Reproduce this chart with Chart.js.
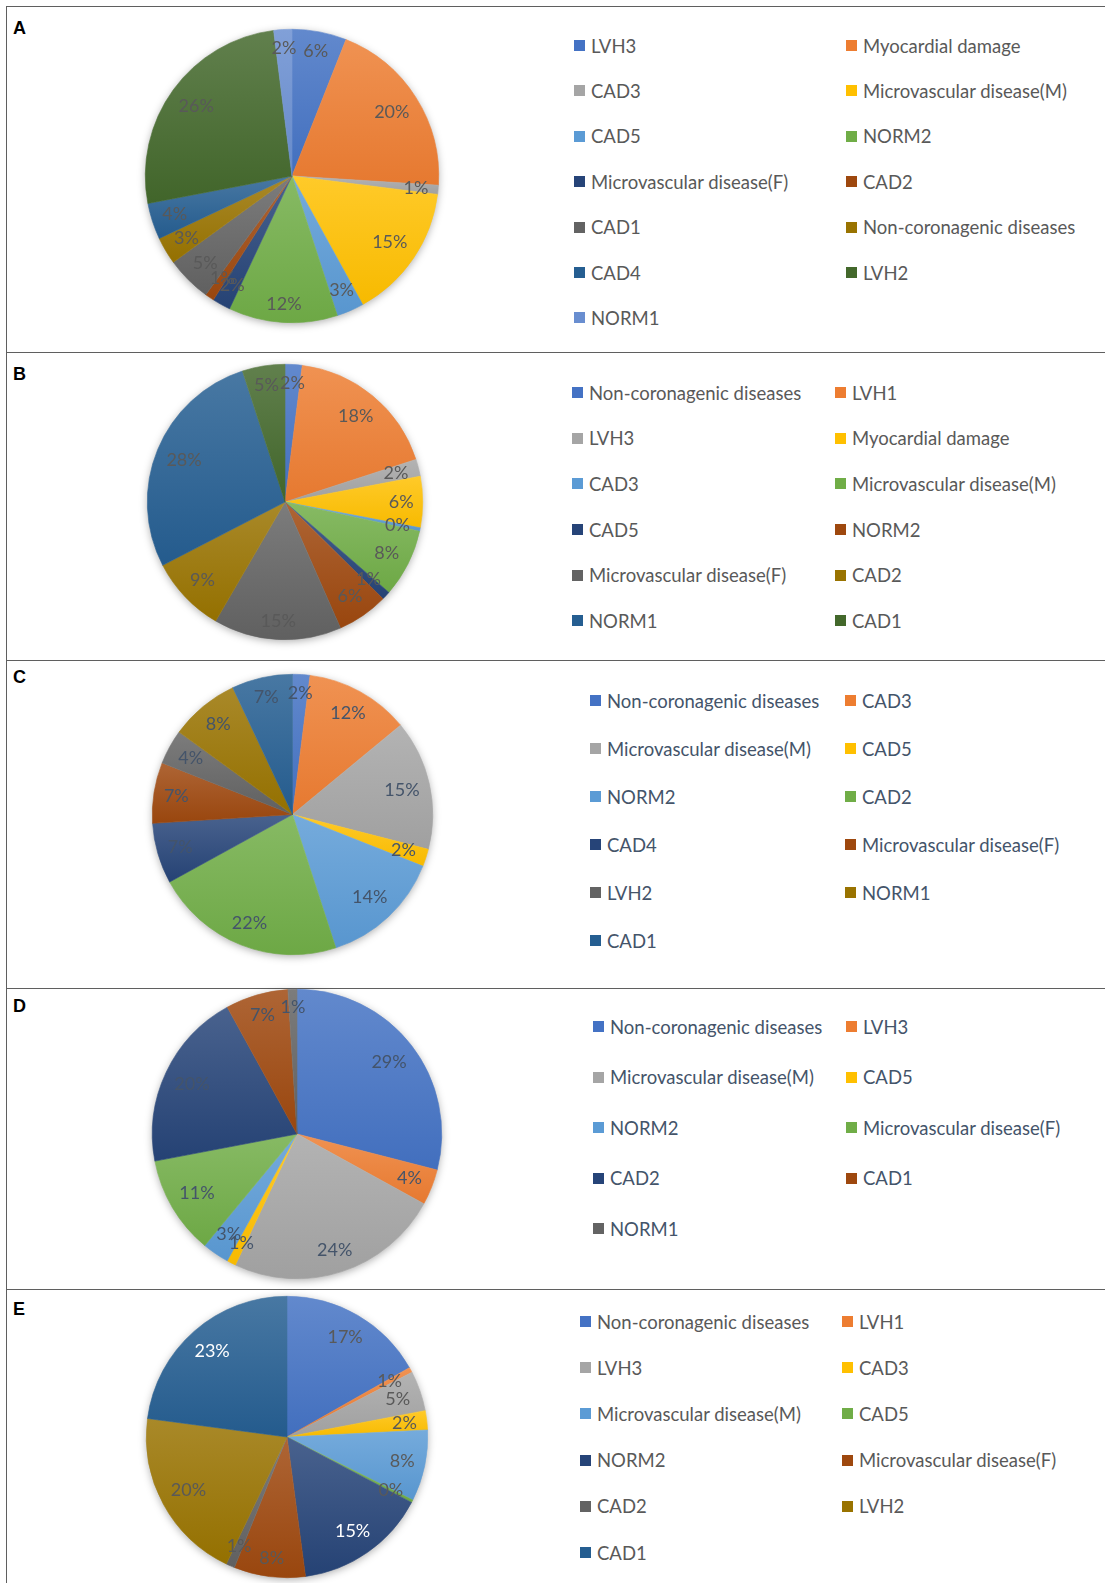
<!DOCTYPE html>
<html><head><meta charset="utf-8">
<script src="https://cdn.jsdelivr.net/npm/chart.js@4.4.0/dist/chart.umd.min.js"></script>
<style>
html,body{margin:0;padding:0;background:#fff;}
#page{position:relative;width:1105px;height:1583px;overflow:hidden;font-family:Lato,'Open Sans',sans-serif;}
.hline{position:absolute;left:6px;right:0;height:0;border-top:1.5px solid #5f5f5f;}
.vline{position:absolute;left:6px;top:6px;bottom:0;width:0;border-left:1.5px solid #5f5f5f;}
.letter{position:absolute;left:13px;height:20px;line-height:20px;font:bold 18px 'Liberation Sans',Arial,sans-serif;color:#000;}
.pie{position:absolute;}
.item{position:absolute;height:24px;display:flex;align-items:center;white-space:nowrap;font-size:18.5px;}
.sw{width:11px;height:11px;margin-right:6px;flex:none;}
</style>
</head><body>
<div id="page"></div>
<script>
// ---------- data ----------
const labelsA = ['LVH3','Myocardial damage','CAD3','Microvascular disease(M)','CAD5','NORM2','Microvascular disease(F)','CAD2','CAD1','Non-coronagenic diseases','CAD4','LVH2','NORM1'];
const valuesA = [6,20,1,15,3,12,2,1,5,3,4,26,2];

const labelsB = ['Non-coronagenic diseases','LVH1','LVH3','Myocardial damage','CAD3','Microvascular disease(M)','CAD5','NORM2','Microvascular disease(F)','CAD2','NORM1','CAD1'];
const valuesB = [2,18,2,6,0.4,8,1,6,15,9,27.6,5];

const labelsC = ['Non-coronagenic diseases','CAD3','Microvascular disease(M)','CAD5','NORM2','CAD2','CAD4','Microvascular disease(F)','LVH2','NORM1','CAD1'];
const valuesC = [2,12,15,2,14,22,7,7,4,8,7];

const labelsD = ['Non-coronagenic diseases','LVH3','Microvascular disease(M)','CAD5','NORM2','Microvascular disease(F)','CAD2','CAD1','NORM1'];
const valuesD = [29,4,24,1,3,11,20,7,1];

const labelsE = ['Non-coronagenic diseases','LVH1','LVH3','CAD3','Microvascular disease(M)','CAD5','NORM2','Microvascular disease(F)','CAD2','LVH2','CAD1'];
const valuesE = [16.8,0.6,4.6,2.2,8.2,0.3,15.2,8.2,1.0,20.0,22.9];

const panelLetters = ['A','B','C','D','E'];

// ---------- styles ----------
const PALETTE = ['#4472C4','#ED7D31','#A5A5A5','#FFC000','#5B9BD5','#70AD47','#264478','#9E480E','#636363','#997300','#255E91','#43682B','#698ED0'];

const layouts = [
  {letterY:28,  cx:292,   cy:176,  r:147,   sq1:574, sq2:846, y0:45.5,  dy:45.4, text:'#595959', labelColors:{}},
  {letterY:374, cx:284.5, cy:502,  r:138,   sq1:572, sq2:835, y0:392.7, dy:45.6, text:'#595959', labelColors:{}},
  {letterY:677, cx:292,   cy:814,  r:140.5, sq1:590, sq2:845, y0:700.6, dy:48.0, text:'#44546A', labelColors:{}},
  {letterY:1006,cx:297,   cy:1134, r:145,   sq1:593, sq2:846, y0:1026.7,dy:50.5, text:'#44546A', labelColors:{}},
  {letterY:1309,cx:287,   cy:1437, r:141,   sq1:580, sq2:842, y0:1321.5,dy:46.2, text:'#595959', labelColors:{6:'#ffffff',10:'#ffffff'}}
];
const lineYs = [6, 352, 660, 988, 1289];

const panels = [
  {labels:labelsA, values:valuesA},
  {labels:labelsB, values:valuesB},
  {labels:labelsC, values:valuesC},
  {labels:labelsD, values:valuesD},
  {labels:labelsE, values:valuesE}
];

// ---------- helpers ----------
function mix(hex, hex2, t){
  const a = parseInt(hex.slice(1),16), b = parseInt(hex2.slice(1),16);
  const r = Math.round(((a>>16)&255)*(1-t) + ((b>>16)&255)*t);
  const g = Math.round(((a>>8)&255)*(1-t) + ((b>>8)&255)*t);
  const bl = Math.round((a&255)*(1-t) + (b&255)*t);
  return 'rgb('+r+','+g+','+bl+')';
}
function sliceFill(c){
  const i = c.dataIndex;
  const base = PALETTE[i % PALETTE.length];
  const chart = c.chart, area = chart.chartArea;
  if (c.type !== 'data' || !area) return base;
  const data = chart.data.datasets[0].data;
  const total = data.reduce((s,v)=>s+v,0);
  let before = 0; for (let k=0;k<i;k++) before += data[k];
  const a0 = -Math.PI/2 + before/total*2*Math.PI;
  const a1 = a0 + data[i]/total*2*Math.PI;
  const cy = (area.top+area.bottom)/2, r = Math.min(area.width, area.height)/2;
  let ymin = cy, ymax = cy;
  for (let t=0;t<=24;t++){ const a = a0+(a1-a0)*t/24; const y = cy + r*Math.sin(a); ymin=Math.min(ymin,y); ymax=Math.max(ymax,y); }
  if (ymax-ymin < 1) ymax = ymin+1;
  const g = chart.ctx.createLinearGradient(0,ymin,0,ymax);
  g.addColorStop(0, mix(base,'#ffffff',0.16));
  g.addColorStop(1, mix(base,'#000000',0.03));
  return g;
}

const pieShadow = {
  id:'pieShadow',
  beforeDatasetsDraw(chart){
    const arc = chart.getDatasetMeta(0).data[0];
    if (!arc) return;
    const p = arc.getProps(['x','y','outerRadius'], true);
    const ctx = chart.ctx;
    ctx.save();
    ctx.shadowColor = 'rgba(0,0,0,0.35)';
    ctx.shadowBlur = 8;
    ctx.shadowOffsetY = 2;
    ctx.fillStyle = '#ffffff';
    ctx.beginPath(); ctx.arc(p.x, p.y, p.outerRadius-0.5, 0, Math.PI*2); ctx.fill();
    ctx.restore();
  }
};

const sliceLabels = {
  id:'sliceLabels',
  afterDatasetsDraw(chart, args, opts){
    const ctx = chart.ctx;
    const data = chart.data.datasets[0].data;
    const total = data.reduce((s,v)=>s+v,0);
    ctx.save();
    ctx.font = opts.size + 'px Lato, "Open Sans", sans-serif';
    ctx.textAlign = 'center'; ctx.textBaseline = 'middle';
    chart.getDatasetMeta(0).data.forEach((arc,i)=>{
      const p = arc.getProps(['x','y','startAngle','endAngle','outerRadius'], true);
      const mid = (p.startAngle+p.endAngle)/2;
      const txt = Math.round(data[i]/total*100) + '%';
      const w = ctx.measureText(txt).width, h = opts.size*0.95;
      const ext = Math.abs(Math.cos(mid))*w/2 + Math.abs(Math.sin(mid))*h/2;
      const d = p.outerRadius - opts.margin - ext;
      ctx.fillStyle = opts.colors[i] || opts.color;
      ctx.fillText(txt, p.x + d*Math.cos(mid), p.y + d*Math.sin(mid));
    });
    ctx.restore();
  }
};

// ---------- build page ----------
const page = document.getElementById('page');
const v = document.createElement('div'); v.className='vline'; page.appendChild(v);
lineYs.forEach(y=>{ const d=document.createElement('div'); d.className='hline'; d.style.top=y+'px'; page.appendChild(d); });

const PAD = 14;
panels.forEach((pn, k)=>{
  const L = layouts[k];
  const lt = document.createElement('div'); lt.className='letter'; lt.textContent = panelLetters[k];
  lt.style.top = (L.letterY-10)+'px'; page.appendChild(lt);

  const size = Math.round(2*L.r + 2*PAD);
  const cv = document.createElement('canvas');
  cv.className='pie'; cv.width=size; cv.height=size;
  cv.style.width=size+'px'; cv.style.height=size+'px';
  cv.style.left=(L.cx - size/2)+'px'; cv.style.top=(L.cy - size/2)+'px';
  page.appendChild(cv);

  new Chart(cv, {
    type:'pie',
    data:{ labels: pn.labels, datasets:[{ data: pn.values, backgroundColor: sliceFill, borderColor: sliceFill, borderWidth:0.6 }]},
    options:{
      responsive:false, animation:false,
      layout:{ padding: PAD },
      plugins:{
        legend:{display:false}, tooltip:{enabled:false},
        sliceLabels:{ size:18, margin: 9, color: L.text, colors: L.labelColors }
      }
    },
    plugins:[pieShadow, sliceLabels]
  });

  // legend (two columns, row-major)
  pn.labels.forEach((lab, i)=>{
    const row = Math.floor(i/2), col = i%2;
    const it = document.createElement('div'); it.className='item';
    it.style.left = (col===0 ? L.sq1 : L.sq2) + 'px';
    it.style.top = (L.y0 + row*L.dy - 12) + 'px';
    it.style.color = L.text;
    const sw = document.createElement('span'); sw.className='sw'; sw.style.background = PALETTE[i % PALETTE.length];
    const tx = document.createElement('span'); tx.textContent = lab;
    it.appendChild(sw); it.appendChild(tx); page.appendChild(it);
  });
});
</script>
</body></html>
